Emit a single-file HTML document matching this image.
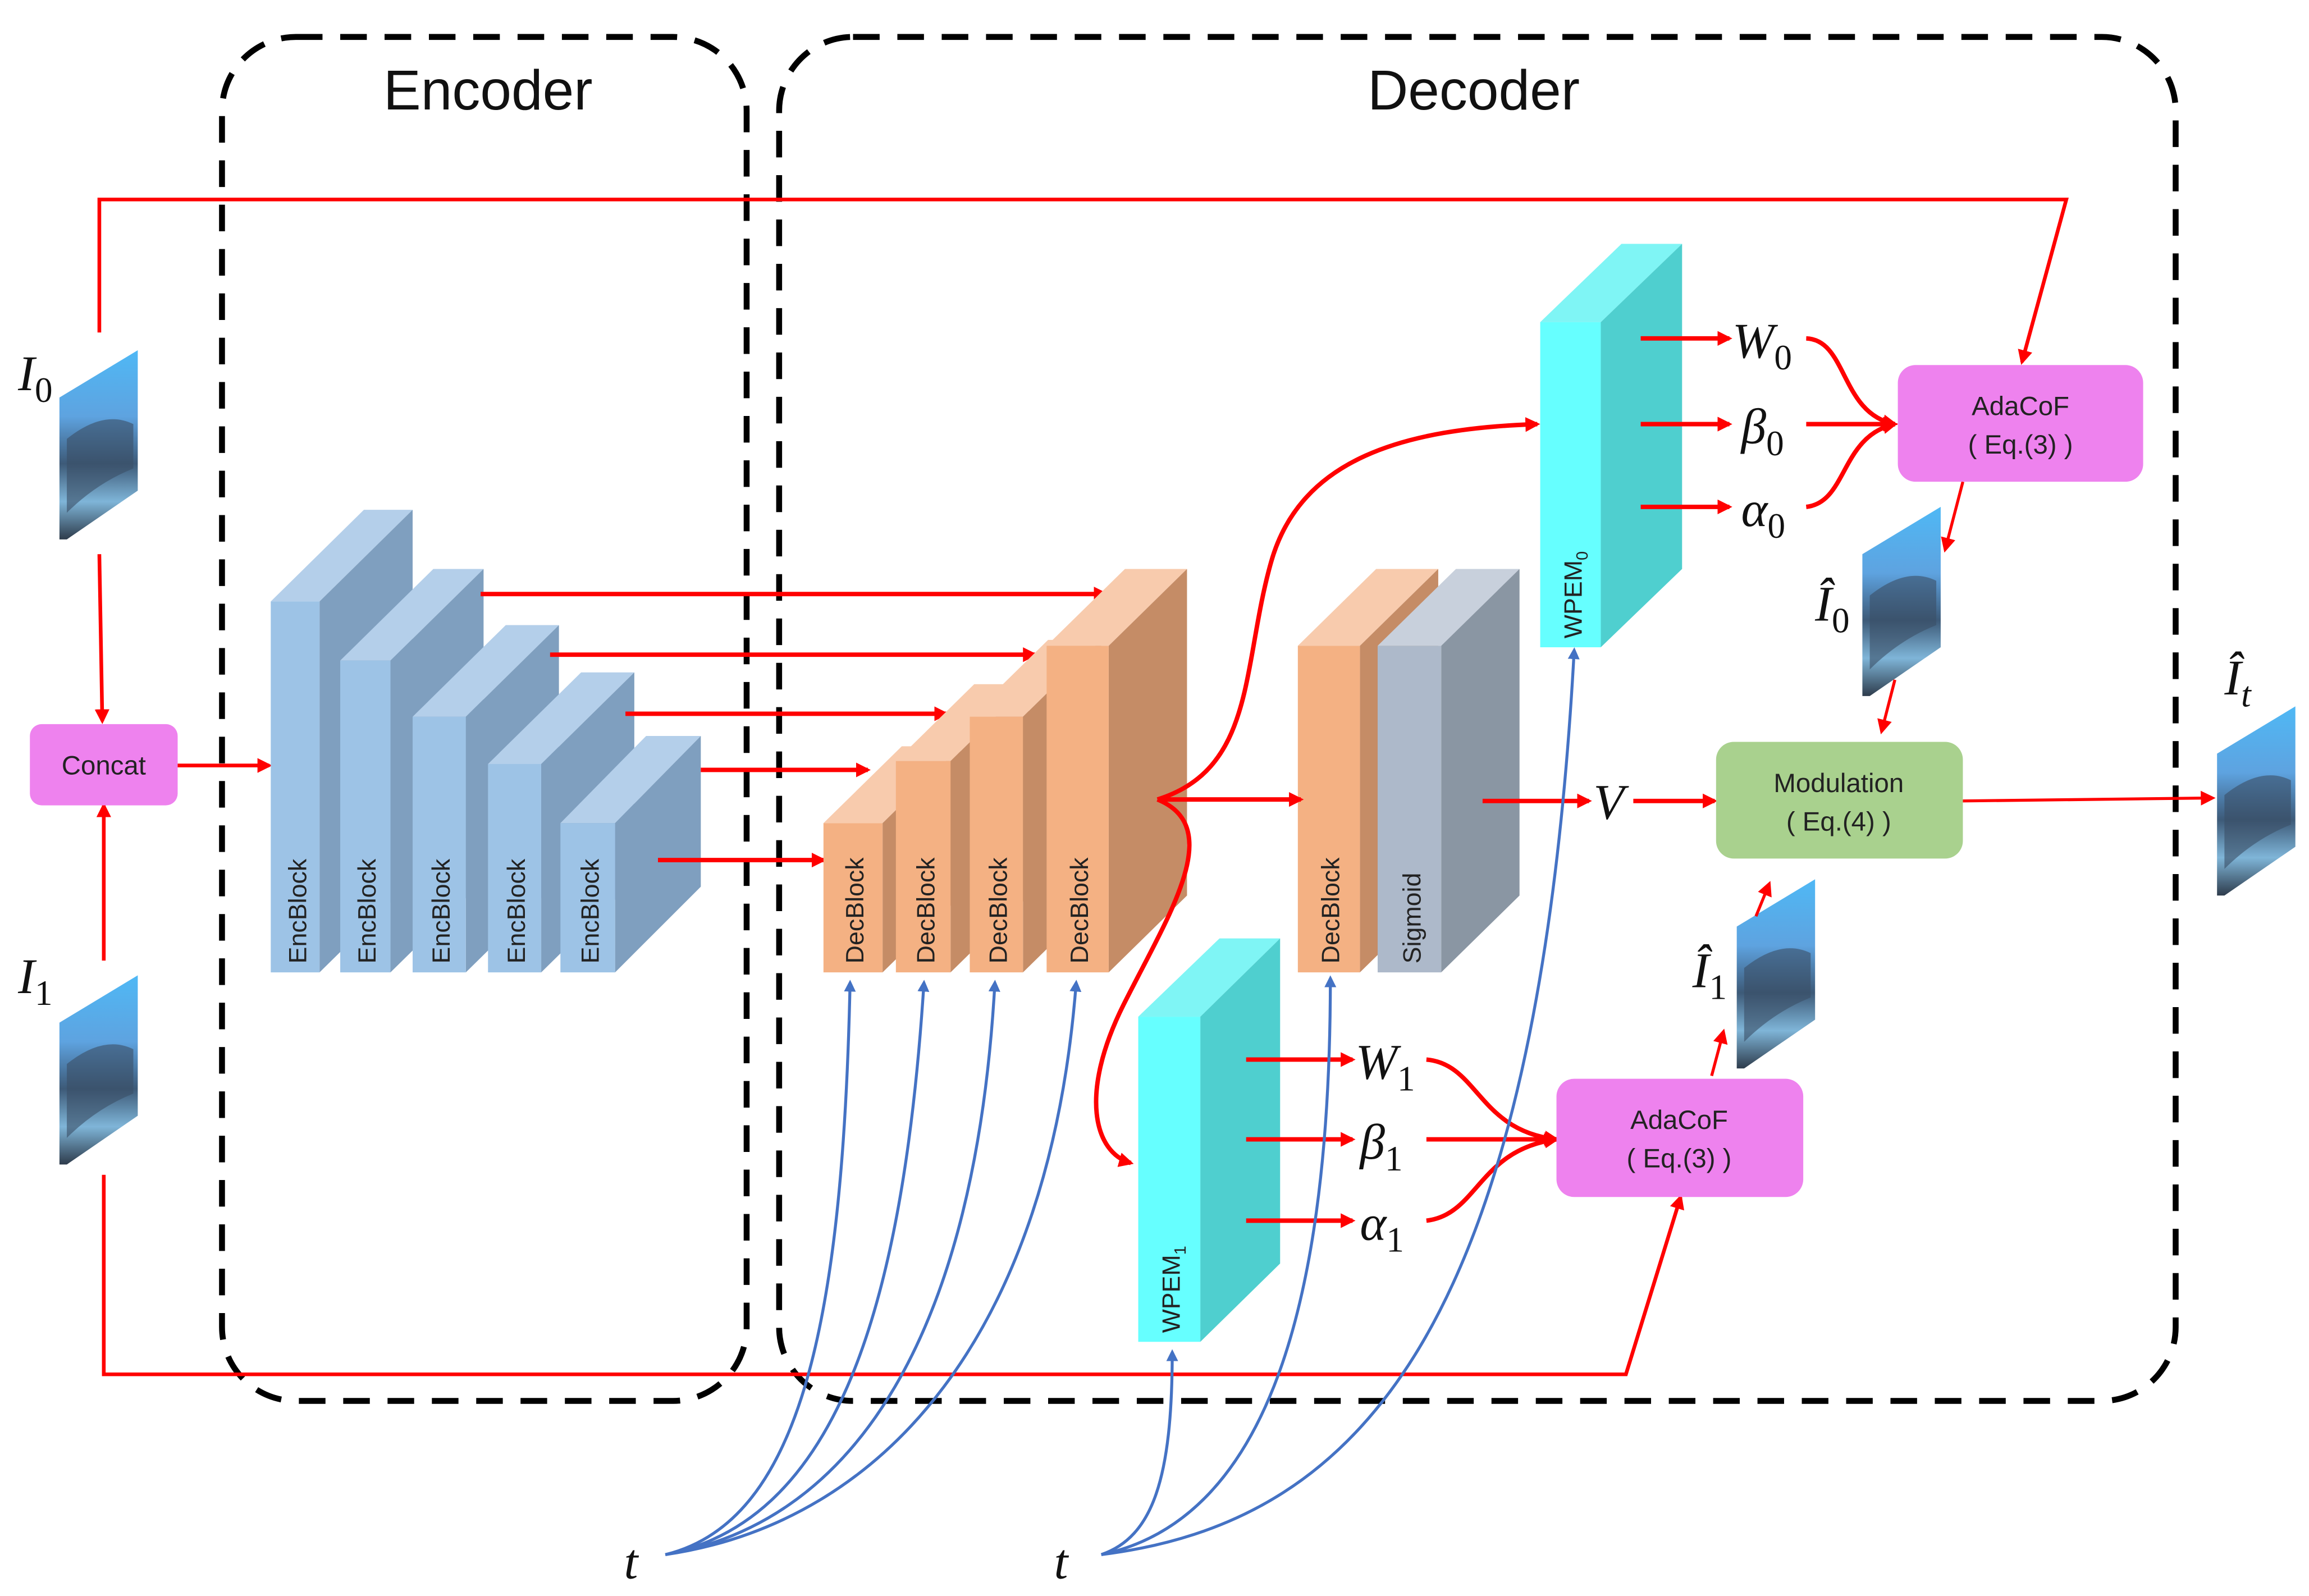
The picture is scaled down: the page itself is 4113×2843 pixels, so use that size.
<!DOCTYPE html>
<html><head><meta charset="utf-8"><style>html,body{margin:0;padding:0;background:#fff}svg{display:block}</style></head>
<body>
<svg width="4113" height="2843" viewBox="0 0 1562 1080" xmlns="http://www.w3.org/2000/svg" font-family="Liberation Sans, sans-serif">
<defs>
<marker id="ar" markerWidth="10" markerHeight="10" refX="8" refY="5" orient="auto" markerUnits="userSpaceOnUse"><path d="M0,0 L10,5 L0,10 z" fill="#ff0000"/></marker>
<marker id="ab" markerWidth="8" markerHeight="8" refX="6" refY="4" orient="auto" markerUnits="userSpaceOnUse"><path d="M0,0 L8,4 L0,8 z" fill="#4472c4"/></marker>
<linearGradient id="img" x1="0" y1="0" x2="0" y2="1"><stop offset="0" stop-color="#4fb8f5"/><stop offset="0.35" stop-color="#5ea3e0"/><stop offset="0.6" stop-color="#3d5a78"/><stop offset="0.8" stop-color="#7fb5d8"/><stop offset="1" stop-color="#2e3c4c"/></linearGradient>
<g id="pic"><path d="M0,32 L53,0 L53,95 L5,128 L0,128 z" fill="url(#img)"/><path d="M5,60 Q30,40 50,50 L50,80 Q25,90 5,110 z" fill="#3a4f66" opacity="0.6"/></g>
</defs>
<rect width="1562" height="1080" fill="#fff"/>
<rect x="150" y="25" width="355" height="923" rx="50" fill="none" stroke="#000" stroke-width="4" stroke-dasharray="18,12"/>
<rect x="527" y="25" width="945" height="923" rx="50" fill="none" stroke="#000" stroke-width="4" stroke-dasharray="18,12"/>
<text x="330" y="74" font-size="38" text-anchor="middle" fill="#111">Encoder</text>
<text x="997" y="74" font-size="38" text-anchor="middle" fill="#111">Decoder</text>
<g stroke="#ff0000" stroke-width="2.5" fill="none">
<path d="M67,225 L67,135 L1398,135 L1368,245" marker-end="url(#ar)"/>
<path d="M70,795 L70,930 L1100,930 L1137,810" marker-end="url(#ar)"/>
<path d="M67,375 L69,488" marker-end="url(#ar)"/>
<path d="M70,650 L70,545" marker-end="url(#ar)"/>
<path d="M120,518 L182,518" marker-end="url(#ar)"/>
</g>
<use href="#pic" x="40" y="237"/>
<use href="#pic" x="40" y="660"/>
<use href="#pic" x="1260" y="343"/>
<use href="#pic" x="1175" y="595"/>
<use href="#pic" x="1500" y="478"/>
<g font-family="Liberation Serif, serif" font-style="italic" font-size="34" fill="#111">
<text x="12" y="264">I<tspan font-style="normal" font-size="24" dy="8">0</tspan></text>
<text x="12" y="672">I<tspan font-style="normal" font-size="24" dy="8">1</tspan></text>
<text x="1228" y="420">Î<tspan font-style="normal" font-size="24" dy="8">0</tspan></text>
<text x="1145" y="668">Î<tspan font-style="normal" font-size="24" dy="8">1</tspan></text>
<text x="1505" y="470">Î<tspan font-size="24" dy="8">t</tspan></text>
<text x="1172" y="242">W<tspan font-style="normal" font-size="24" dy="8">0</tspan></text>
<text x="1178" y="300">β<tspan font-style="normal" font-size="24" dy="8">0</tspan></text>
<text x="1178" y="356">α<tspan font-style="normal" font-size="24" dy="8">0</tspan></text>
<text x="917" y="730">W<tspan font-style="normal" font-size="24" dy="8">1</tspan></text>
<text x="920" y="784">β<tspan font-style="normal" font-size="24" dy="8">1</tspan></text>
<text x="920" y="839">α<tspan font-style="normal" font-size="24" dy="8">1</tspan></text>
<text x="1078" y="554">V</text>
<text x="422" y="1068">t</text>
<text x="713" y="1068">t</text>
</g>
<rect x="20" y="490" width="100" height="55" rx="8" fill="#ee82ee"/>
<text x="70" y="524" font-size="18" text-anchor="middle" fill="#222">Concat</text>
<g>
<path d="M183,407 L246,345 L279,345 L216,407 z" fill="#b4cfea"/><path d="M216,407 L279,345 L279,596 L216,658 z" fill="#7f9fbf"/><rect x="183" y="407" width="33" height="251" fill="#9dc3e6"/>
<path d="M230,447 L293,385 L327,385 L264,447 z" fill="#b4cfea"/><path d="M264,447 L327,385 L327,596 L264,658 z" fill="#7f9fbf"/><rect x="230" y="447" width="34" height="211" fill="#9dc3e6"/>
<path d="M279,485 L342,423 L378,423 L315,485 z" fill="#b4cfea"/><path d="M315,485 L378,423 L378,596 L315,658 z" fill="#7f9fbf"/><rect x="279" y="485" width="36" height="173" fill="#9dc3e6"/>
<path d="M330,517 L393,455 L429,455 L366,517 z" fill="#b4cfea"/><path d="M366,517 L429,455 L429,596 L366,658 z" fill="#7f9fbf"/><rect x="330" y="517" width="36" height="141" fill="#9dc3e6"/>
<path d="M379,557 L437,498 L474,498 L416,557 z" fill="#b4cfea"/><path d="M416,557 L474,498 L474,600 L416,658 z" fill="#7f9fbf"/><rect x="379" y="557" width="37" height="101" fill="#9dc3e6"/>
</g>
<g font-size="17" fill="#222">
<text transform="translate(207,652) rotate(-90)">EncBlock</text>
<text transform="translate(254,652) rotate(-90)">EncBlock</text>
<text transform="translate(304,652) rotate(-90)">EncBlock</text>
<text transform="translate(355,652) rotate(-90)">EncBlock</text>
<text transform="translate(405,652) rotate(-90)">EncBlock</text>
</g>
<g stroke="#ff0000" stroke-width="3" fill="none">
<path d="M325,402 L748,402" marker-end="url(#ar)"/>
<path d="M372,443 L700,443" marker-end="url(#ar)"/>
<path d="M423,483 L640,483" marker-end="url(#ar)"/>
<path d="M474,521 L587,521" marker-end="url(#ar)"/>
<path d="M445,582 L557,582" marker-end="url(#ar)"/>
</g>
<g>
<path d="M557,557 L610,505 L650,505 L597,557 z" fill="#f8cbad"/><path d="M597,557 L650,505 L650,606 L597,658 z" fill="#c58c66"/><rect x="557" y="557" width="40" height="101" fill="#f4b183"/>
<path d="M606,515 L659,463 L696,463 L643,515 z" fill="#f8cbad"/><path d="M643,515 L696,463 L696,606 L643,658 z" fill="#c58c66"/><rect x="606" y="515" width="37" height="143" fill="#f4b183"/>
<path d="M656,485 L709,433 L745,433 L692,485 z" fill="#f8cbad"/><path d="M692,485 L745,433 L745,606 L692,658 z" fill="#c58c66"/><rect x="656" y="485" width="36" height="173" fill="#f4b183"/>
<path d="M708,437 L761,385 L803,385 L750,437 z" fill="#f8cbad"/><path d="M750,437 L803,385 L803,606 L750,658 z" fill="#c58c66"/><rect x="708" y="437" width="42" height="221" fill="#f4b183"/>
<path d="M878,437 L931,385 L973,385 L920,437 z" fill="#f8cbad"/><path d="M920,437 L973,385 L973,606 L920,658 z" fill="#c58c66"/><rect x="878" y="437" width="42" height="221" fill="#f4b183"/>
<path d="M932,437 L985,385 L1028,385 L975,437 z" fill="#c8d0dc"/><path d="M975,437 L1028,385 L1028,606 L975,658 z" fill="#8a96a3"/><rect x="932" y="437" width="43" height="221" fill="#adb9ca"/>
</g>
<g font-size="17" fill="#222">
<text transform="translate(584,652) rotate(-90)">DecBlock</text>
<text transform="translate(632,652) rotate(-90)">DecBlock</text>
<text transform="translate(681,652) rotate(-90)">DecBlock</text>
<text transform="translate(736,652) rotate(-90)">DecBlock</text>
<text transform="translate(906,652) rotate(-90)">DecBlock</text>
<text transform="translate(961,652) rotate(-90)">Sigmoid</text>
</g>
<path d="M1042,218 L1097,165 L1138,165 L1083,218 z" fill="#7ff5f5"/><path d="M1083,218 L1138,165 L1138,385 L1083,438 z" fill="#4fcfcf"/><rect x="1042" y="218" width="41" height="220" fill="#66ffff"/>
<path d="M770,688 L825,635 L866,635 L812,688 z" fill="#7ff5f5"/><path d="M812,688 L866,635 L866,855 L812,908 z" fill="#4fcfcf"/><rect x="770" y="688" width="42" height="220" fill="#66ffff"/>
<text transform="translate(1070,432) rotate(-90)" font-size="17" fill="#222">WPEM<tspan font-size="11" dy="4">0</tspan></text>
<text transform="translate(798,902) rotate(-90)" font-size="17" fill="#222">WPEM<tspan font-size="11" dy="4">1</tspan></text>
<g stroke="#ff0000" stroke-width="3" fill="none">
<path d="M783,541 C850,520 840,450 860,380 C880,310 950,290 1040,287" marker-end="url(#ar)"/>
<path d="M783,541 C830,560 790,620 760,680 C730,740 740,780 765,787" marker-end="url(#ar)"/>
<path d="M783,541 L880,541" marker-end="url(#ar)"/>
<path d="M1003,542 L1075,542" marker-end="url(#ar)"/>
<path d="M1105,542 L1160,542" marker-end="url(#ar)"/>
<path d="M1110,229 L1170,229" marker-end="url(#ar)"/>
<path d="M1110,287 L1170,287" marker-end="url(#ar)"/>
<path d="M1110,343 L1170,343" marker-end="url(#ar)"/>
<path d="M1222,229 C1250,230 1245,280 1282,287" marker-end="url(#ar)"/>
<path d="M1222,287 L1282,287" marker-end="url(#ar)"/>
<path d="M1222,343 C1250,340 1245,295 1282,287" marker-end="url(#ar)"/>
<path d="M843,717 L915,717" marker-end="url(#ar)"/>
<path d="M843,771 L915,771" marker-end="url(#ar)"/>
<path d="M843,826 L915,826" marker-end="url(#ar)"/>
<path d="M965,717 C1000,720 1000,765 1053,771" marker-end="url(#ar)"/>
<path d="M965,771 L1053,771" marker-end="url(#ar)"/>
<path d="M965,826 C1000,822 1000,778 1053,771" marker-end="url(#ar)"/>
</g>
<g stroke="#ff0000" stroke-width="2" fill="none">
<path d="M1328,326 L1316,372" marker-end="url(#ar)"/>
<path d="M1282,460 L1273,495" marker-end="url(#ar)"/>
<path d="M1158,728 L1166,698" marker-end="url(#ar)"/>
<path d="M1188,620 L1197,598" marker-end="url(#ar)"/>
<path d="M1328,542 L1497,540" marker-end="url(#ar)"/>
</g>
<rect x="1284" y="247" width="166" height="79" rx="12" fill="#ee82ee"/>
<text x="1367" y="281" font-size="18" text-anchor="middle" fill="#222">AdaCoF</text>
<text x="1367" y="307" font-size="18" text-anchor="middle" fill="#222">( Eq.(3) )</text>
<rect x="1053" y="730" width="167" height="80" rx="12" fill="#ee82ee"/>
<text x="1136" y="764" font-size="18" text-anchor="middle" fill="#222">AdaCoF</text>
<text x="1136" y="790" font-size="18" text-anchor="middle" fill="#222">( Eq.(3) )</text>
<rect x="1161" y="502" width="167" height="79" rx="12" fill="#a9d18e"/>
<text x="1244" y="536" font-size="18" text-anchor="middle" fill="#222">Modulation</text>
<text x="1244" y="562" font-size="18" text-anchor="middle" fill="#222">( Eq.(4) )</text>
<g stroke="#4472c4" stroke-width="2" fill="none">
<path d="M450,1052 C540,1030 570,900 575,665" marker-end="url(#ab)"/>
<path d="M450,1052 C560,1030 610,900 625,665" marker-end="url(#ab)"/>
<path d="M450,1052 C580,1030 660,900 673,665" marker-end="url(#ab)"/>
<path d="M450,1052 C600,1030 710,900 728,665" marker-end="url(#ab)"/>
<path d="M745,1052 C780,1040 793,1000 793,915" marker-end="url(#ab)"/>
<path d="M745,1052 C850,1030 900,900 900,662" marker-end="url(#ab)"/>
<path d="M745,1052 C920,1030 1040,900 1065,440" marker-end="url(#ab)"/>
</g>
</svg>
</body></html>
